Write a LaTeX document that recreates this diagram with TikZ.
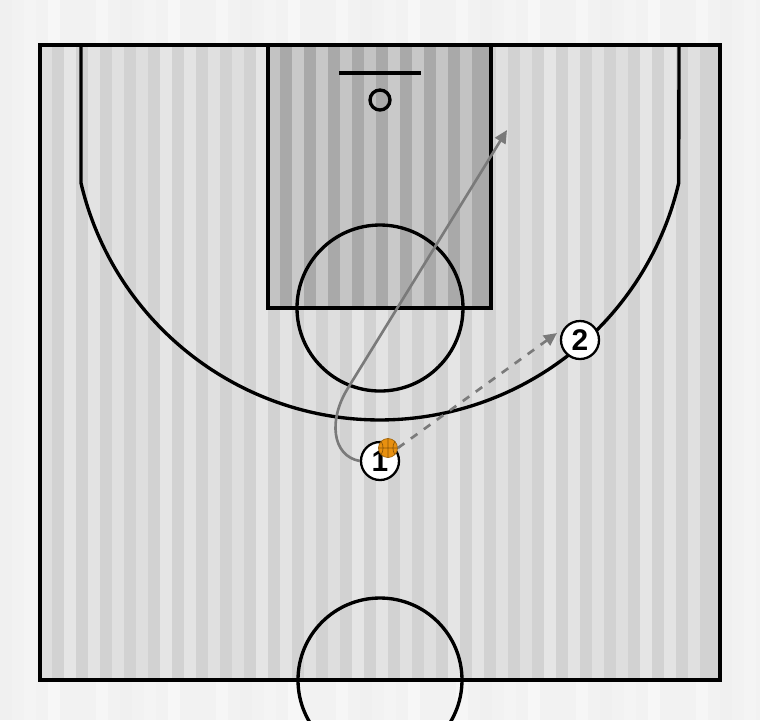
\documentclass[tikz,border=0pt]{standalone}
\usepackage{fontspec}
\setmainfont{Liberation Sans}
\usetikzlibrary{arrows.meta}
\definecolor{outbg}{HTML}{F2F2F2}
\definecolor{courtbg}{HTML}{D2D2D2}
\definecolor{paintbg}{HTML}{A9A9A9}
\definecolor{ballc}{HTML}{E8900F}
\definecolor{pathc}{HTML}{7A7A7A}
\tikzset{
  courtline/.style={line width=0.95pt, draw=black},
  player/.style={circle, draw=black, line width=0.65pt, fill=white, minimum size=0.38cm, inner sep=0pt, font=\fontsize{8.5}{8.5}\selectfont\bfseries},
  ballnode/.style={circle, fill=ballc, draw=ballc!70!black, line width=0.2pt, minimum size=0.19cm, inner sep=0pt},
  dribble/.style={draw=pathc, line width=0.75pt, -{Triangle[length=0.13cm,width=0.12cm]}},
  pass/.style={draw=pathc, line width=0.75pt, dash pattern=on 0.08cm off 0.08cm, -{Triangle[length=0.13cm,width=0.12cm]}}
}
\begin{document}
\begin{tikzpicture}[x=0.01cm,y=-0.01cm]
\useasboundingbox (0,0) rectangle (760,720);
% background stripes outside
\fill[outbg] (0,0) rectangle (760,720);
\foreach \i in {0,...,31}{
  \pgfmathsetmacro{\s}{mod(\i*7,5)}
  \pgfmathsetmacro{\shade}{\s*1.5+88}
  \fill[white!\shade!gray] (\i*24,0) rectangle (\i*24+12,720);
}
% court
\fill[courtbg] (40,45) rectangle (720,680);
\foreach \i in {0,...,27}{
  \pgfmathsetmacro{\s}{mod(\i*3,4)}
  \pgfmathsetmacro{\shade}{\s*2+74}
  \fill[white!\shade!gray] (40+\i*24,45) rectangle (40+\i*24+12,680);
}
% paint
\fill[paintbg] (268,45) rectangle (491,308);
\foreach \i in {0,...,8}{
  \pgfmathsetmacro{\s}{mod(\i*3,4)}
  \pgfmathsetmacro{\shade}{\s*1.5+53}
  \fill[white!\shade!gray] (268+\i*24,45) rectangle (268+\i*24+12,308);
}
\draw[courtline] (268,45) rectangle (491,308);
% court outline
\draw[courtline] (40,45) rectangle (720,680);
% three point line
\draw[courtline] (81,45) -- (81,183) arc[start angle=193.2, end angle=346.8, x radius=307, y radius=-307] -- (679,45);
% backboard & rim
\draw[courtline] (339,73) -- (421,73);
\draw[courtline] (380,100) circle[radius=10];
% free throw circle
\draw[courtline] (380,308) circle[radius=83];
% center circle
\begin{scope}
\clip (0,0) rectangle (760,720);
\draw[courtline] (380,680) circle[radius=82];
\end{scope}
% players
\node[player] (p1) at (380,461) {1};
\node[player] (p2) at (580,340) {2};
\node[ballnode] (ball) at (388,448) {};
\draw[ballc!60!black, line width=0.2pt] (ball.north) -- (ball.south) (ball.west) -- (ball.east)
  (ball.north west) to[bend left=30] (ball.south west)
  (ball.north east) to[bend right=30] (ball.south east);
\coordinate (drend) at (507,130);
\coordinate (passend) at (557,333);
% dribble
\draw[dribble] (p1.west) .. controls (332,456) and (328,420) .. (348,388) -- (drend);
% pass
\draw[pass] (ball.east) ++(0.04,-0.01) -- (passend);
\end{tikzpicture}
\end{document}
